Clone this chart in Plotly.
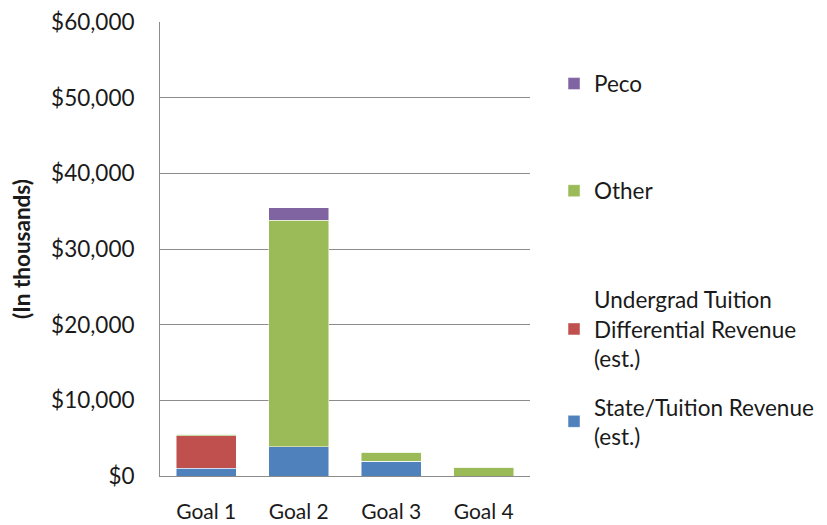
import plotly.graph_objects as go

GOALS = ["Goal 1", "Goal 2", "Goal 3", "Goal 4"]
# Valeurs en milliers de dollars
STATE_TUITION = [1000, 3870, 1980, 0]
UNDERGRAD_DIFF = [4350, 0, 0, 0]
OTHER = [200, 29960, 1150, 1150]
PECO = [0, 1630, 0, 0]
Y_TICKS = [0, 10000, 20000, 30000, 40000, 50000, 60000]
Y_LABELS = ["$0", "$10,000", "$20,000", "$30,000", "$40,000", "$50,000", "$60,000"]

FONT = "Lato, Calibri, sans-serif"
TEXT = "#1a1a1a"
GRID = "#8c8c8c"
FS = 22.5

# Ordre d'empilement de bas en haut ; chaque série a sa propre légende
SERIES = [
    ("State/Tuition Revenue<br>(est.)", STATE_TUITION, "#4f81bd", "legend4"),
    ("Undergrad Tuition<br>Differential Revenue<br>(est.)", UNDERGRAD_DIFF, "#c0504d", "legend3"),
    ("Other", OTHER, "#9bbb59", "legend2"),
    ("Peco", PECO, "#8064a2", "legend"),
]

fig = go.Figure()
for name, vals, color, leg in SERIES:
    fig.add_trace(go.Bar(
        x=GOALS, y=vals, name=name, legend=leg,
        marker=dict(color=color, line=dict(color="rgba(255,255,255,0.6)", width=0.8)),
        width=0.65))

legend_font = dict(family=FONT, size=FS, color=TEXT)


def legend_at(y):
    # positions en coordonnées du conteneur pour ne pas pousser les marges
    return dict(x=0.6667, y=y, xref="container", yref="container",
                xanchor="left", yanchor="middle",
                font=legend_font, bgcolor="rgba(0,0,0,0)", itemclick=False)


fig.update_layout(
    # la page ajoute 8 px de marge autour de la figure
    width=819, height=517,
    margin=dict(l=152, r=297, t=14, b=49, autoexpand=False),
    barmode="stack",
    plot_bgcolor="white", paper_bgcolor="white",
    font=dict(family=FONT, size=FS, color=TEXT),
    showlegend=True,
    legend=legend_at(0.853),
    legend2=legend_at(0.646),
    legend3=legend_at(0.379),
    legend4=legend_at(0.200),
    xaxis=dict(showline=True, linecolor=GRID, linewidth=1, showgrid=False,
               ticks="", ticklabelstandoff=17, ticklabeloverflow="allow",
               tickfont=dict(family=FONT, size=21, color=TEXT)),
    yaxis=dict(range=[0, 60000], tickvals=Y_TICKS, ticktext=Y_LABELS,
               ticklabeloverflow="allow",
               showline=True, linecolor=GRID, linewidth=1,
               showgrid=True, gridcolor=GRID, gridwidth=1, zeroline=False,
               ticks="", ticklabelstandoff=20,
               tickfont=dict(family=FONT, size=FS, color=TEXT),
               title=dict(text="<b>(In thousands)</b>", standoff=24,
                          font=dict(family=FONT, size=FS, color=TEXT))),
)

fig.write_html("out.html")
